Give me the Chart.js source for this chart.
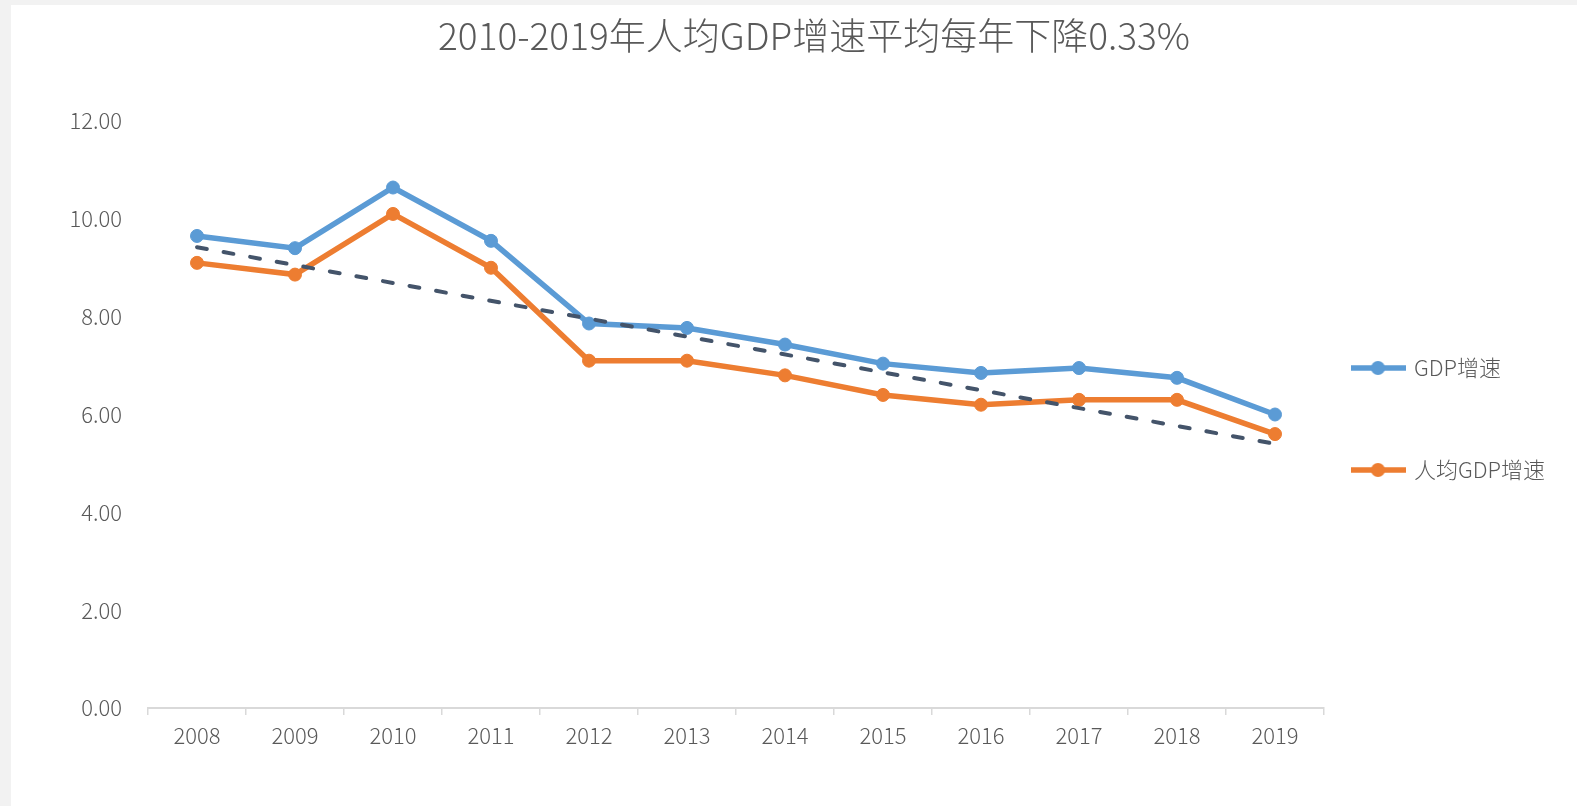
<!DOCTYPE html>
<html><head><meta charset="utf-8">
<script src="https://cdn.jsdelivr.net/npm/chart.js@4.4.0/dist/chart.umd.min.js"></script>
<style>
html,body{margin:0;padding:0;background:#f2f2f2;width:1577px;height:806px;overflow:hidden}
#wrap{position:absolute;left:11px;top:5px;width:1566px;height:801px;background:#fff}
canvas{display:block}
</style></head><body>
<div id="wrap"><canvas id="c" width="1566" height="801"></canvas></div>
<script>
const titleText = '2010-2019年人均GDP增速平均每年下降0.33%';
const years = ['2008','2009','2010','2011','2012','2013','2014','2015','2016','2017','2018','2019'];
const seriesNames = ['GDP增速', '人均GDP增速'];
const gdpGrowth = [9.65, 9.40, 10.64, 9.55, 7.86, 7.77, 7.43, 7.04, 6.85, 6.95, 6.75, 6.00];
const perCapitaGrowth = [9.10, 8.86, 10.10, 9.00, 7.10, 7.10, 6.80, 6.40, 6.20, 6.30, 6.30, 5.60];
const trendValues = [9.42, null, null, null, null, null, null, null, null, null, null, 5.40];
const yMin = 0, yMax = 12, yStep = 2;

const FONT = "'Noto Sans CJK SC', 'Noto Sans', sans-serif";
const TEXT = '#595959';
const BLUE = '#5B9BD5', ORANGE = '#ED7D31', TREND = '#44546A';

function makeMarker(color) {
  const c = document.createElement('canvas');
  c.width = 55; c.height = 16;
  const g = c.getContext('2d');
  g.strokeStyle = color; g.lineWidth = 5.5;
  g.beginPath(); g.moveTo(0, 8); g.lineTo(55, 8); g.stroke();
  g.fillStyle = color;
  g.beginPath(); g.arc(27.5, 8, 7, 0, Math.PI * 2); g.fill();
  return c;
}
const blank = document.createElement('canvas'); blank.width = 1; blank.height = 1;
const markers = [makeMarker(BLUE), makeMarker(ORANGE)];

new Chart(document.getElementById('c'), {
  type: 'line',
  data: {
    labels: years,
    datasets: [
      { label: seriesNames[0], data: gdpGrowth, borderColor: BLUE, backgroundColor: BLUE,
        borderWidth: 5.5, pointRadius: 6.5, pointBorderWidth: 1, pointBorderColor: BLUE,
        pointBackgroundColor: BLUE, tension: 0, order: 1 },
      { label: seriesNames[1], data: perCapitaGrowth, borderColor: ORANGE, backgroundColor: ORANGE,
        borderWidth: 5.5, pointRadius: 6.5, pointBorderWidth: 1, pointBorderColor: ORANGE,
        pointBackgroundColor: ORANGE, tension: 0, order: 2 },
      { label: 'trend', data: trendValues, borderColor: TREND, borderWidth: 4,
        borderDash: [10, 17], borderCapStyle: 'round', pointRadius: 0, spanGaps: true,
        tension: 0, order: 0 }
    ]
  },
  options: {
    responsive: false,
    animation: false,
    devicePixelRatio: 1,
    layout: { padding: { left: 40, right: 0, top: 0, bottom: 58 } },
    plugins: {
      tooltip: { enabled: false },
      title: {
        display: true, text: titleText, color: TEXT,
        font: { family: FONT, size: 37, weight: 300 },
        padding: { top: 9, bottom: 62.6 }
      },
      legend: {
        display: true, position: 'right', fullSize: false, maxWidth: 253,
        title: { display: true, text: ' ', font: { size: 1, lineHeight: 1 }, padding: { top: 4, bottom: 4 } },
        labels: {
          usePointStyle: true, pointStyleWidth: 50, padding: 29, color: TEXT,
          font: { family: FONT, size: 22, weight: 300 },
          generateLabels() {
            return [
              { text: seriesNames[0], pointStyle: markers[0], fillStyle: BLUE, strokeStyle: BLUE, lineWidth: 0, datasetIndex: 0, hidden: false, fontColor: TEXT },
              { text: ' '.repeat(44), pointStyle: blank, fillStyle: 'rgba(0,0,0,0)', strokeStyle: 'rgba(0,0,0,0)', lineWidth: 0, datasetIndex: 2, hidden: false, fontColor: TEXT },
              { text: seriesNames[1], pointStyle: markers[1], fillStyle: ORANGE, strokeStyle: ORANGE, lineWidth: 0, datasetIndex: 1, hidden: false, fontColor: TEXT }
            ];
          }
        }
      }
    },
    scales: {
      x: {
        offset: true,
        grid: { display: true, offset: true, drawOnChartArea: false, drawTicks: true, tickLength: 7, color: '#d9d9d9', lineWidth: 1.5 },
        border: { display: true, color: '#d9d9d9', width: 2 },
        ticks: { color: TEXT, font: { family: FONT, size: 22, weight: 300 }, padding: 7, maxRotation: 0, autoSkip: false },
        afterFit(scale) { scale.height = 40; }
      },
      y: {
        min: yMin, max: yMax,
        grid: { display: false, drawTicks: false },
        border: { display: false },
        ticks: { stepSize: yStep, color: TEXT, font: { family: FONT, size: 22, weight: 300 }, padding: 26,
          callback: v => Number(v).toFixed(2) },
        afterFit(scale) { scale.width = 97; }
      }
    }
  }
});
</script>
</body></html>
